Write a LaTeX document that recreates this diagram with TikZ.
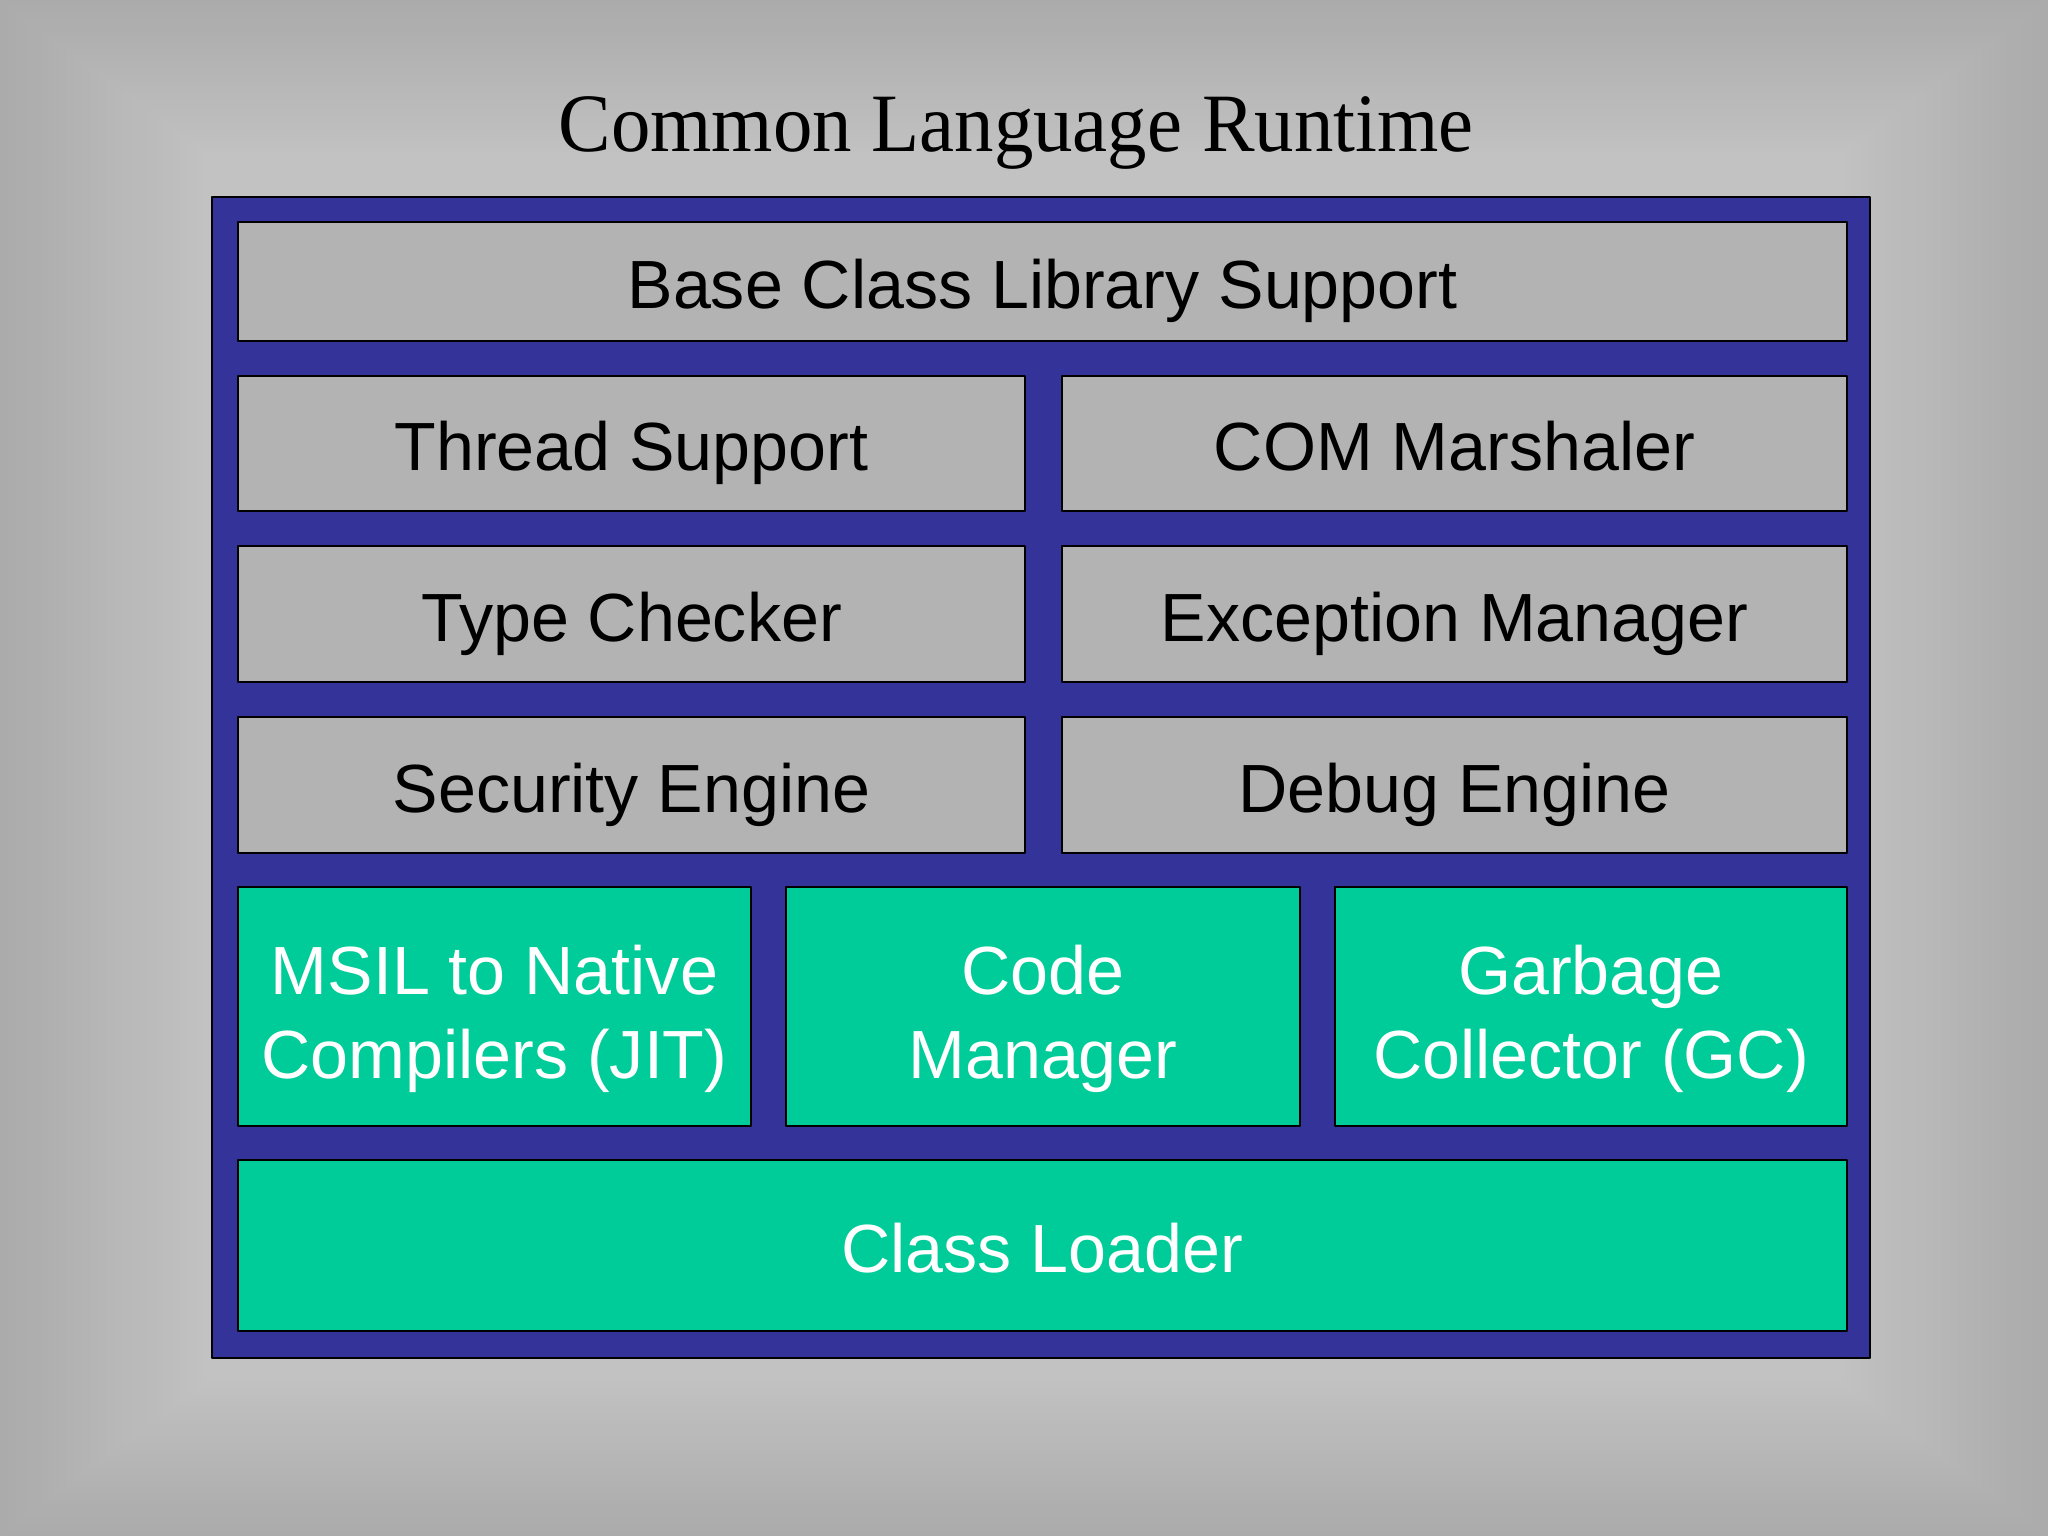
\documentclass[tikz,border=0pt]{standalone}
\usepackage{fontspec}
\setmainfont{Liberation Sans}
\newfontfamily\clrserif{Liberation Serif}
\usepackage{tikz}
\definecolor{clrblue}{RGB}{51,51,153}
\definecolor{clrgray}{RGB}{179,179,179}
\definecolor{clrgreen}{RGB}{0,204,153}

\begin{document}
\begin{tikzpicture}[line cap=round,line join=round,x=1.0cm,y=1.0cm,
    part/.style={draw=black,line width=0.8pt,inner sep=0pt,font=\fontsize{19.4}{23.9}\selectfont},
    graybox/.style={part,fill=clrgray,text=black,text height=0.55cm,text depth=0pt},
    greenbox/.style={part,fill=clrgreen,text=white},
    oneline/.style={text height=0.55cm,text depth=0pt},
    twoline/.style={align=center,inner sep=0pt,text=white,font=\fontsize{19.4}{23.9}\selectfont}]
    \useasboundingbox (0,0) rectangle (20.48,15.36);
    \foreach \i in {0,...,25}{
        \pgfmathsetmacro{\shade}{67+0.36*\i}
        \fill[white!\shade!black] (0.0819*\i,0.0614*\i) rectangle (20.48-0.0819*\i,15.36-0.0614*\i);
    }
    \node (title) [anchor=base,xscale=0.95,transform shape,font=\clrserif\fontsize{23.6}{28}\selectfont] at (10.16,13.84) {Common Language Runtime};
    \node (clr) [draw=black,line width=0.8pt,fill=clrblue,minimum width=16.58cm,minimum height=11.61cm] at (10.41,7.585) {};
    \node (base) [graybox,minimum width=16.09cm,minimum height=1.19cm] at (10.425,12.545) {Base Class Library Support};
    \node (thread) [graybox,minimum width=7.87cm,minimum height=1.35cm] at (6.315,10.925) {Thread Support};
    \node (com) [graybox,minimum width=7.85cm,minimum height=1.35cm] at (14.545,10.925) {COM Marshaler};
    \node (type) [graybox,minimum width=7.87cm,minimum height=1.36cm] at (6.315,9.22) {Type Checker};
    \node (exc) [graybox,minimum width=7.85cm,minimum height=1.36cm] at (14.545,9.22) {Exception Manager};
    \node (sec) [graybox,minimum width=7.87cm,minimum height=1.36cm] at (6.315,7.51) {Security Engine};
    \node (dbg) [graybox,minimum width=7.85cm,minimum height=1.36cm] at (14.545,7.51) {Debug Engine};
    \node (jit) [greenbox,minimum width=5.13cm,minimum height=2.39cm] at (4.945,5.295) {};
    \node (code) [greenbox,minimum width=5.14cm,minimum height=2.39cm] at (10.43,5.295) {};
    \node (gc) [greenbox,minimum width=5.12cm,minimum height=2.39cm] at (15.91,5.295) {};
    \node (jittext) [twoline] at ([yshift=-0.12cm]jit.center) {MSIL to Native\\Compilers (JIT)};
    \node (codetext) [twoline] at ([yshift=-0.12cm]code.center) {Code\\Manager};
    \node (gctext) [twoline] at ([yshift=-0.12cm]gc.center) {Garbage\\Collector (GC)};
    \node (loader) [greenbox,oneline,minimum width=16.09cm,minimum height=1.71cm] at (10.425,2.905) {Class Loader};
\end{tikzpicture}
\end{document}
